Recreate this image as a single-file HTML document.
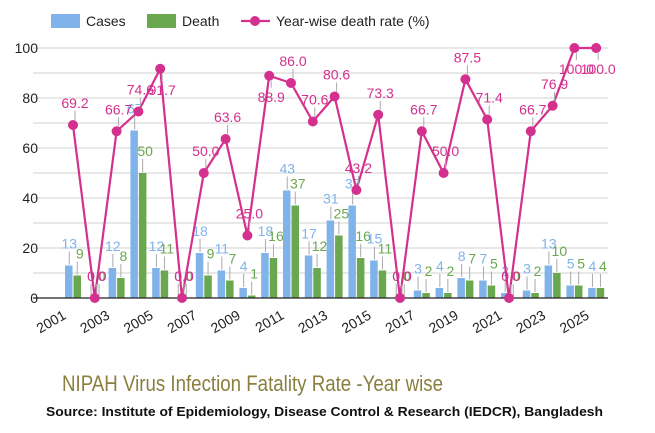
<!DOCTYPE html>
<html><head><meta charset="utf-8"><style>
body{margin:0;background:#fff;width:655px;height:428px;overflow:hidden}
svg{font-family:"Liberation Sans",sans-serif}
</style></head><body>
<svg id="c" width="655" height="428"></svg>
<script>
const years=[2001,2002,2003,2004,2005,2006,2007,2008,2009,2010,2011,2012,2013,2014,2015,2016,2017,2018,2019,2020,2021,2022,2023,2024,2025];
const cases=[13,0,12,67,12,0,18,11,4,18,43,17,31,37,15,0,3,4,8,7,2,3,13,5,4];
const deaths=[9,0,8,50,11,0,9,7,1,16,37,12,25,16,11,0,2,2,7,5,0,2,10,5,4];
const rates=[69.2,0,66.7,74.6,91.7,0,50,63.6,25,88.9,86,70.6,80.6,43.2,73.3,0,66.7,50,87.5,71.4,0,66.7,76.9,100,100];
const yTicks=[0,20,40,60,80,100];
const below=[2005,2010,2024,2025];
const NS="http://www.w3.org/2000/svg";
const svg=document.getElementById('c');
const x0=73,step=21.8;
const X=i=>x0+i*step;
const Y=v=>298-v*2.5;
function el(t,a,p){const e=document.createElementNS(NS,t);for(const k in a)e.setAttribute(k,a[k]);(p||svg).appendChild(e);return e;}
for(let v=0;v<=100;v+=10){const g=el('line',{x1:33,x2:608,y1:Y(v),y2:Y(v),stroke:'#d0d0d0','stroke-width':1});

}
yTicks.forEach(v=>{const t=el('text',{x:38,y:Y(v)+5,'text-anchor':'end','font-size':14,fill:'#222'});t.textContent=v;

});
const bw=7.5;
years.forEach((yr,i)=>{
 const cx=X(i);
 const b1=el('rect',{x:cx-bw-0.5,y:Y(cases[i]),width:bw,height:cases[i]*2.5,fill:'#7fb3ea'});
 
 
 const b2=el('rect',{x:cx+0.5,y:Y(deaths[i]),width:bw,height:deaths[i]*2.5,fill:'#6aa84f'});
 
 
 el('line',{x1:cx-bw/2,x2:cx-bw/2,y1:Y(cases[i])-1,y2:Y(cases[i])-14,stroke:'#aaa'});
 el('line',{x1:cx+bw/2+0.5,x2:cx+bw/2+0.5,y1:Y(deaths[i])-1,y2:Y(deaths[i])-14,stroke:'#aaa'});
 const l1=el('text',{x:cx-bw/2,y:Y(cases[i])-17,'text-anchor':'middle','font-size':14,fill:'#7fb3ea'});l1.textContent=cases[i];
 
 
 const l2=el('text',{x:cx+bw/2+3,y:Y(deaths[i])-17,'text-anchor':'middle','font-size':14,fill:'#6aa84f'});l2.textContent=deaths[i];
 
 
 if(i%2==0){const t=el('text',{x:cx-6,y:318,'text-anchor':'end','font-size':14,fill:'#222',transform:`rotate(-30 ${cx-6} 318)`});t.textContent=yr;
 
 }
});
el('line',{x1:33,x2:608,y1:298,y2:298,stroke:'#222','stroke-width':1.3});
const pts=rates.map((r,i)=>X(i)+','+Y(r)).join(' ');
const pl=el('polyline',{points:pts,fill:'none',stroke:'#d4308e','stroke-width':2.2});


rates.forEach((r,i)=>{
 const b=below.includes(years[i]);
 if(b) el('line',{x1:X(i)+2,x2:X(i)+2,y1:Y(r)+5,y2:Y(r)+12,stroke:'#aaa'});
 else el('line',{x1:X(i)+2,x2:X(i)+2,y1:Y(r)-5,y2:Y(r)-14,stroke:'#aaa'});
 const c=el('circle',{cx:X(i),cy:Y(r),r:5,fill:'#d4308e'});
 
 
 const t=el('text',{x:X(i)+2,y:b?Y(r)+26:Y(r)-17,'text-anchor':'middle','font-size':14,fill:'#d4308e'});t.textContent=r.toFixed(1);
 
 
});
</script>
<svg style="position:absolute;left:0;top:0" width="655" height="428">
<g font-family="Liberation Sans, sans-serif" font-size="14" fill="#222">
<rect x="51" y="14" width="29" height="14" fill="#7fb3ea"/>
<text x="86" y="26">Cases</text>
<rect x="147" y="14" width="29" height="14" fill="#6aa84f"/>
<text x="182" y="26">Death</text>
<line x1="241" x2="270" y1="21" y2="21" stroke="#d4308e" stroke-width="2.2"/>
<circle cx="255" cy="21" r="5" fill="#d4308e"/>
<text x="276" y="26">Year-wise death rate (%)</text>
</g>
<text x="62" y="391" font-family="Liberation Sans, sans-serif" font-size="22" fill="#8a7f3e" textLength="381" lengthAdjust="spacingAndGlyphs">NIPAH Virus Infection Fatality Rate -Year wise</text>
<text x="46" y="416" font-family="Liberation Sans, sans-serif" font-size="13" font-weight="bold" fill="#111" textLength="557" lengthAdjust="spacingAndGlyphs">Source: Institute of Epidemiology, Disease Control &amp;  Research (IEDCR), Bangladesh</text>
</svg>
</body></html>
